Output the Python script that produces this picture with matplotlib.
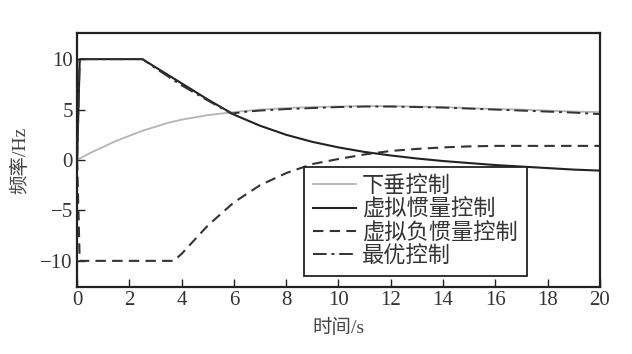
import matplotlib
matplotlib.use("Agg")
import matplotlib.pyplot as plt

plt.rcParams['font.family'] = ['Liberation Serif', 'Noto Sans CJK SC', 'DejaVu Sans']

# Data
t_droop = [0, 0.5, 1, 1.5, 2, 2.5, 3, 3.5, 4, 5, 6, 7, 8, 9, 10, 11, 12, 13, 14, 15, 16, 17, 18, 19, 20]
f_droop = [0, 0.7, 1.3, 1.9, 2.4, 2.9, 3.3, 3.7, 4.0, 4.45, 4.75, 5.0, 5.15, 5.25, 5.3, 5.35, 5.35, 5.3, 5.25, 5.15, 5.05, 5.0, 4.9, 4.8, 4.75]

t_vi = [0, 0.1, 2.5, 3, 4, 5, 6, 7, 8, 9, 10, 11, 12, 13, 14, 15, 16, 17, 18, 19, 20]
f_vi = [0, 10, 10, 9.2, 7.6, 6.0, 4.5, 3.4, 2.5, 1.8, 1.25, 0.8, 0.45, 0.15, -0.1, -0.3, -0.5, -0.65, -0.8, -0.95, -1.05]

t_vni = [0, 0.1, 3.7, 4, 5, 6, 7, 8, 9, 10, 11, 12, 13, 14, 15, 16, 18, 20]
f_vni = [0, -10, -10, -9.3, -6.5, -4.2, -2.5, -1.3, -0.4, 0.1, 0.55, 0.9, 1.1, 1.25, 1.35, 1.4, 1.4, 1.4]

t_opt = [0, 0.1, 2.5, 3, 4, 5, 5.9, 6.5, 7, 8, 9, 10, 11, 12, 13, 14, 15, 16, 17, 18, 19, 20]
f_opt = [0, 10, 10, 9.1, 7.4, 5.9, 4.6, 4.8, 4.9, 5.05, 5.15, 5.25, 5.3, 5.3, 5.25, 5.2, 5.1, 5.0, 4.9, 4.8, 4.7, 4.55]

labels = ['下垂控制', '虚拟惯量控制', '虚拟负惯量控制', '最优控制']
x_ticks = [0, 2, 4, 6, 8, 10, 12, 14, 16, 18, 20]
y_ticks = [-10, -5, 0, 5, 10]

fig = plt.figure(figsize=(6.32, 3.54), dpi=100)
ax = fig.add_axes([0.122, 0.189, 0.827, 0.718])

ax.plot(t_droop, f_droop, color='#b4b4b4', lw=1.3, label=labels[0])
ax.plot(t_vi, f_vi, color='#222222', lw=1.5, label=labels[1])
ax.plot(t_vni, f_vni, color='#333333', lw=1.5, ls=(0, (5, 3)), label=labels[2])
ax.plot(t_opt, f_opt, color='#333333', lw=1.4, ls=(0, (7, 2.5, 1.5, 2.5)), label=labels[3])

ax.set_xlim(0, 20)
ax.set_ylim(-12.6, 12.6)
ax.set_xticks(x_ticks)
ax.set_yticks(y_ticks)
ax.tick_params(direction='in', length=6, width=1.0, labelsize=15, pad=3,
               top=False, right=False, colors='#222222', labelcolor='#333333')
for s in ax.spines.values():
    s.set_linewidth(1.6)
    s.set_color('#222222')

ax.set_xlabel('时间/s', fontsize=14, color='#444444', labelpad=6)
ax.set_ylabel('频率/Hz', fontsize=14, color='#444444', labelpad=8)

leg = ax.legend(loc='lower left', bbox_to_anchor=(0.435, 0.043), fontsize=16,
                frameon=True, fancybox=False, edgecolor='#222222', framealpha=1,
                handlelength=1.9, handletextpad=0.3, labelspacing=0.1, borderpad=0.4,
                borderaxespad=0)
leg.get_frame().set_linewidth(1.3)
for txt in leg.get_texts():
    txt.set_color('#333333')

fig.savefig('out.png', dpi=100)
